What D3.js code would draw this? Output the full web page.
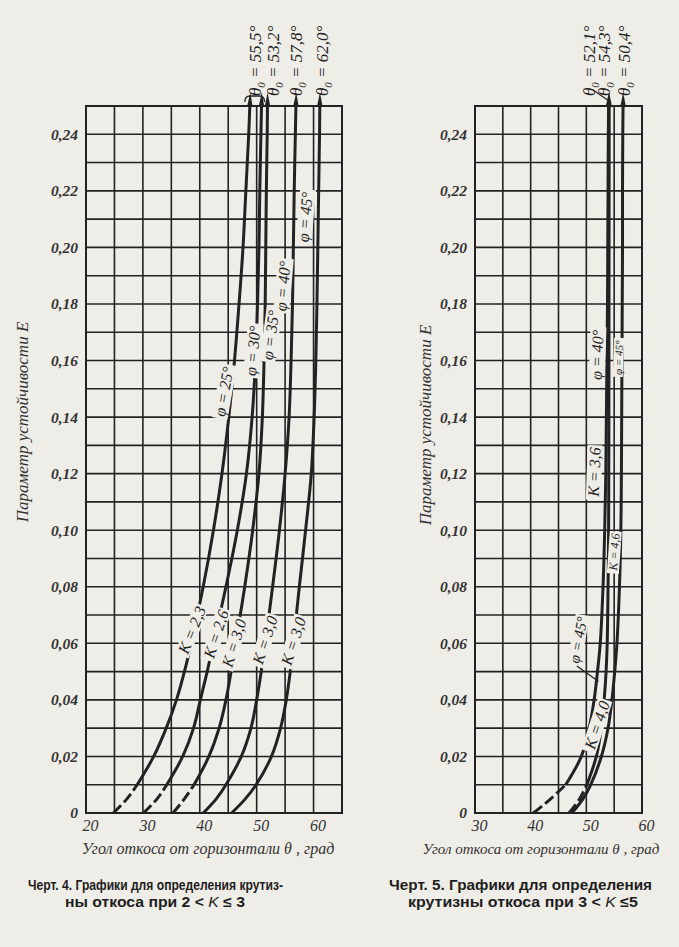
<!DOCTYPE html>
<html><head><meta charset="utf-8">
<script src="https://cdn.jsdelivr.net/npm/d3@7"></script>
<style>
html,body{margin:0;padding:0;background:#efede7;}
svg{display:block;}
</style></head>
<body>
<script>
// ---------------- DATA ----------------
const yTicks = [0,0.02,0.04,0.06,0.08,0.10,0.12,0.14,0.16,0.18,0.20,0.22,0.24];
const leftXTicks = [20,30,40,50,60];
const rightXTicks = [30,40,50,60];
const xTitle = "Угол откоса от горизонтали θ , град";
const yTitle = "Параметр устойчивости E";

// Left chart (2 < K ≤ 3): E levels and θ (deg) of each curve at those levels
const leftE  = [0,0.005,0.01,0.02,0.03,0.04,0.05,0.06,0.08,0.10,0.12,0.14,0.16,0.18,0.20,0.22,0.24,0.25];
const curveA = [24.8,27.2,29.0,31.9,34.1,35.9,37.3,38.5,40.6,42.4,43.9,45.1,46.1,46.9,47.6,48.1,48.6,48.8];
const curveB = [30.1,32.5,34.2,37.0,38.9,40.1,41.3,42.4,44.6,46.6,48.2,49.2,49.8,50.15,50.4,50.55,50.75,50.85];
const curveC = [35.3,37.3,39.0,41.6,43.4,44.6,45.5,46.3,47.9,49.3,50.4,51.0,51.3,51.5,51.6,51.7,51.85,51.9];
const curveD = [40.6,42.9,44.6,47.3,49.0,50.0,50.8,51.5,52.8,54.0,55.0,55.7,56.05,56.3,56.45,56.6,56.8,56.9];
const curveE = [45.6,48.0,49.9,52.6,54.2,55.2,55.9,56.45,57.5,58.6,59.6,60.1,60.4,60.6,60.75,60.9,61.05,61.1];
const leftDashed = [true,true,true,false,false];
const leftKLabels = ["K = 2,3","K = 2,6","K = 3,0","K = 3,0","K = 3,0"];
const leftKAt = [[38.6,0.0647],[42.85,0.0633],[46.0,0.0601],[51.45,0.0612],[56.45,0.0608]];
const leftPhiLabels = ["φ = 25°","φ = 30°","φ = 35°","φ = 40°","φ = 45°"];
const leftPhiAt = [[44.2,0.149],[49.3,0.1634],[52.4,0.169],[54.6,0.1863],[58.5,0.2107]];
const leftTheta0 = ["55,5°","53,2°","57,8°","62,0°"];
const leftTheta0At = [49.7,52.9,57.0,61.45];

// Right chart (3 < K ≤ 5)
const rightE  = [0,0.005,0.01,0.02,0.03,0.04,0.05,0.06,0.08,0.10,0.12,0.14,0.16,0.18,0.20,0.22,0.24,0.25];
const curveR1 = [40.5,43.6,46.3,49.1,50.5,51.4,52.0,52.5,53.0,53.3,53.5,53.6,53.7,53.8,53.85,53.9,53.95,54.0];
const curveR3 = [46.9,48.8,50.1,51.8,52.7,53.2,53.55,53.75,53.9,54.0,54.03,54.05,54.06,54.07,54.08,54.09,54.1,54.1];
const curveR2 = [47.4,49.4,50.8,52.7,53.9,54.6,55.1,55.5,55.95,56.2,56.3,56.35,56.4,56.45,56.5,56.5,56.55,56.6];
const rightDashed = [true,true,false];
const rightTheta0 = ["52,1°","54,3°","50,4°"];
const rightTheta0At = [50.5,53.2,56.8];

const captionLeft = ["Черт. 4. Графики для определения крутиз-","ны откоса при 2 < K ≤ 3"];
const captionRight = ["Черт. 5.  Графики для определения","крутизны откоса при 3 < K ≤5"];

// ---------------- DRAW ----------------
const W = 679, H = 947;
const BG = "#efede7", INK = "#222";
const svg = d3.select("body").append("svg").attr("width", W).attr("height", H);

const defs = svg.append("defs");
defs.append("marker").attr("id","arr").attr("viewBox","0 0 10 4")
  .attr("refX",0).attr("refY",2).attr("markerWidth",4.5).attr("markerHeight",1.8)
  .attr("markerUnits","strokeWidth").attr("orient","auto")
  .append("path").attr("d","M0,0 L10,2 L0,4 z").attr("fill",INK);

const yTop = 106, yBot = 813;
const yScale = d3.scaleLinear().domain([0,0.25]).range([yBot, yTop]);

function panel(x0, x1, xDomain, xTicks, titleSize, titleX) {
  const x = d3.scaleLinear().domain(xDomain).range([x0, x1]);
  const g = svg.append("g");
  const gx = d3.range(xDomain[0], xDomain[1] + 0.001, 5);
  const gy = d3.range(0, 0.2501, 0.01);
  g.selectAll(".vg").data(gx).join("line")
    .attr("x1", d => x(d)).attr("x2", d => x(d)).attr("y1", yTop).attr("y2", yBot)
    .attr("stroke", INK).attr("stroke-width", 1.6);
  g.selectAll(".hg").data(gy).join("line")
    .attr("x1", x0).attr("x2", x1).attr("y1", d => yScale(d)).attr("y2", d => yScale(d))
    .attr("stroke", INK).attr("stroke-width", 1.6);
  g.append("rect").attr("x", x0).attr("y", yTop).attr("width", x1 - x0).attr("height", yBot - yTop)
    .attr("fill","none").attr("stroke", INK).attr("stroke-width", 2);
  const yAxis = d3.axisLeft(yScale).tickValues(yTicks).tickSize(0).tickPadding(8)
    .tickFormat(d => d === 0 ? "0" : d3.format(".2f")(d).replace(".", ","));
  const ya = g.append("g").attr("transform", `translate(${x0},0)`).call(yAxis);
  ya.select(".domain").remove();
  ya.selectAll("text").attr("font-family","Liberation Serif").attr("font-style","italic")
    .attr("font-weight","bold").attr("font-size",15.5).attr("fill","#333");
  const xAxis = d3.axisBottom(x).tickValues(xTicks).tickSize(0).tickPadding(7);
  const xa = g.append("g").attr("transform", `translate(0,${yBot})`).call(xAxis);
  xa.select(".domain").remove();
  xa.selectAll("text").attr("font-family","Liberation Serif").attr("font-style","italic")
    .attr("font-size",16).attr("fill","#333").attr("dx",4);
  g.append("text").attr("x", titleX).attr("y", 854).attr("text-anchor","middle")
    .attr("font-family","Liberation Serif").attr("font-style","italic").attr("font-size",titleSize)
    .attr("fill","#333").text(xTitle);
  return {x, g};
}

const L = panel(86, 342, [20,65], leftXTicks, 16, 208);
const R = panel(475, 642, [30,60], rightXTicks, 15, 541);

const curveLayer = {L: L.g.append("g"), R: R.g.append("g")};
const labelLayer = {L: L.g.append("g"), R: R.g.append("g")};

function drawCurve(p, layer, Es, thetas, dashed) {
  const pts = Es.map((e, i) => [thetas[i], e]);
  const line = d3.line().x(d => p.x(d[0])).y(d => yScale(d[1])).curve(d3.curveCatmullRom.alpha(0.5));
  const split = dashed ? Es.indexOf(0.01) : 0;
  if (dashed) {
    layer.append("path").attr("d", line(pts.slice(0, split + 1))).attr("fill","none")
      .attr("stroke", INK).attr("stroke-width", 3).attr("stroke-dasharray","11,4");
  }
  layer.append("path").attr("d", line(pts.slice(split))).attr("fill","none")
    .attr("stroke", INK).attr("stroke-width", 3).attr("marker-end","url(#arr)");
}

function label(p, layer, txt, th, e, angle, size) {
  const cx = p.x(th), cy = yScale(e);
  const gg = layer.append("g").attr("transform", `translate(${cx},${cy}) rotate(${angle})`);
  const rect = gg.append("rect").attr("fill", BG);
  const t = gg.append("text").attr("text-anchor","middle").attr("dy","0.35em")
    .attr("font-family","Liberation Serif").attr("font-style","italic")
    .attr("font-size", size).attr("fill", INK).text(txt);
  const bb = t.node().getBBox();
  rect.attr("x", bb.x - 2).attr("y", bb.y + 1).attr("width", bb.width + 4).attr("height", bb.height - 2);
}

const leftCurves = [curveA, curveB, curveC, curveD, curveE];
leftCurves.forEach((c, i) => drawCurve(L, curveLayer.L, leftE, c, leftDashed[i]));
const rightCurves = [curveR1, curveR3, curveR2];
rightCurves.forEach((c, i) => drawCurve(R, curveLayer.R, rightE, c, rightDashed[i]));

const kAngles = [-68,-72,-73,-72,-72];
leftKLabels.forEach((t, i) => label(L, labelLayer.L, t, leftKAt[i][0], leftKAt[i][1], kAngles[i], 16));
const phiAngles = [-80,-85,-82,-85,-85];
leftPhiLabels.forEach((t, i) => label(L, labelLayer.L, t, leftPhiAt[i][0], leftPhiAt[i][1], phiAngles[i], 16));

function theta0(p, txt, th) {
  const tx = p.g.append("text").attr("transform", `translate(${p.x(th)},96) rotate(-90)`)
    .attr("font-family","Liberation Serif").attr("font-style","italic").attr("font-size",17)
    .attr("dy","0.35em").attr("fill",INK);
  tx.append("tspan").text("θ");
  tx.append("tspan").attr("font-size",11).attr("dy","4").text("0");
  tx.append("tspan").attr("dy","-4").text(" = " + txt);
}
leftTheta0.forEach((t, i) => theta0(L, t, leftTheta0At[i]));
rightTheta0.forEach((t, i) => theta0(R, t, rightTheta0At[i]));

// brace joining the first two arrows (left), leader lines (right)
const bx0 = L.x(curveA[17]) - 5, bx1 = L.x(curveB[17]) + 3;
L.g.append("path").attr("d", `M${bx0},${yTop - 4} Q${bx0},${yTop - 10} ${bx0 + 5},${yTop - 10} L${bx1 - 5},${yTop - 10} Q${bx1},${yTop - 10} ${bx1},${yTop - 4}`)
  .attr("fill","none").attr("stroke",INK).attr("stroke-width",1.3);
R.g.append("line").attr("x1", R.x(rightTheta0At[0]) + 4).attr("y1", 90)
  .attr("x2", R.x(curveR1[17]) - 1).attr("y2", 100).attr("stroke",INK).attr("stroke-width",1.2);

label(R, labelLayer.R, "φ = 40°", 51.9, 0.162, -88, 16);
label(R, labelLayer.R, "K = 3,6", 51.4, 0.1206, -88, 16);
label(R, labelLayer.R, "φ = 45°", 55.8, 0.161, -88, 11);
label(R, labelLayer.R, "K = 4,6", 55.0, 0.0923, -86, 12);
label(R, labelLayer.R, "φ = 45°", 48.5, 0.0612, -80, 15);
label(R, labelLayer.R, "K = 4,0", 51.9, 0.0311, -72, 16);
R.g.append("line").attr("x1", R.x(48.3)).attr("y1", yScale(0.052))
  .attr("x2", R.x(52.2)).attr("y2", yScale(0.0465)).attr("stroke",INK).attr("stroke-width",1.2);

// y-axis titles
[[22, 422],[425, 425]].forEach(([x, y]) => {
  svg.append("text").attr("transform", `translate(${x},${y}) rotate(-90)`).attr("text-anchor","middle")
    .attr("dy","0.35em").attr("font-family","Liberation Serif").attr("font-style","italic").attr("font-size",17)
    .attr("fill","#333").text(yTitle);
});

// captions
function caption(lines, xs, ys, widths) {
  lines.forEach((t, i) => {
    const tx = svg.append("text").attr("x", xs[i]).attr("y", ys[i])
      .attr("font-family","Liberation Sans").attr("font-weight","bold").attr("font-size",14.5).attr("fill","#1e1e1e")
      .attr("textLength", widths[i]).attr("lengthAdjust","spacingAndGlyphs");
    const parts = t.split("K");
    tx.append("tspan").text(parts[0]);
    if (parts.length > 1) {
      tx.append("tspan").attr("font-style","italic").attr("font-weight","normal").text("K");
      tx.append("tspan").text(parts[1]);
    }
  });
}
caption(captionLeft, [28, 65], [890, 907], [255, 180]);
caption(captionRight, [389, 408], [890, 907], [263, 230]);
</script>
</body></html>
